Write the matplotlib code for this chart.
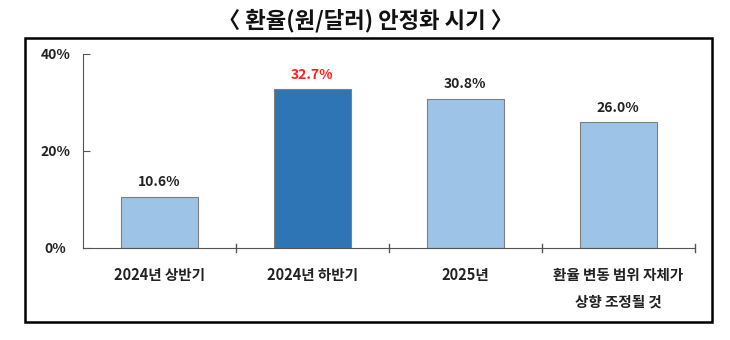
import matplotlib.pyplot as plt
from matplotlib.patches import Rectangle

plt.rcParams['font.family'] = ['Noto Sans CJK KR', 'DejaVu Sans']

categories = ['2024년 상반기', '2024년 하반기', '2025년', '환율 변동 범위 자체가\n상향 조정될 것']
values = [10.6, 32.7, 30.8, 26.0]
colors = ['#9DC3E6', '#2E75B6', '#9DC3E6', '#9DC3E6']
label_colors = ['#222222', '#FF2020', '#222222', '#222222']

fig = plt.figure(figsize=(7.3, 3.4), dpi=100)
ax = fig.add_axes([0.1137, 0.2706, 0.838, 0.5706])

x = range(len(categories))
ax.bar(x, values, width=0.5, color=colors, edgecolor='#7F7F7F', linewidth=0.8, zorder=2)
for i, v in enumerate(values):
    ax.text(i, v + 1.5, f'{v:.1f}%', ha='center', va='bottom', fontsize=10,
            fontweight='bold', color=label_colors[i])

ax.set_xlim(-0.5, len(categories) - 0.5)
ax.set_ylim(0, 40)
ax.set_yticks([0, 20, 40])
ax.set_yticklabels(['0%', '20%', '40%'], fontsize=10, fontweight='bold', color='#222222')
ax.set_xticks(list(x))
ax.set_xticklabels(categories, fontsize=10.5, fontweight='bold', color='#222222', linespacing=1.75)
ax.tick_params(axis='x', length=0, pad=14)
ax.tick_params(axis='y', direction='in', length=5, color='#555555', pad=20)
# boundary ticks between categories
for b in [0.5, 1.5, 2.5, 3.5]:
    ax.plot([b, b], [-0.8, 0.8], color='#555555', lw=1, clip_on=False)
for lbl in ax.get_yticklabels():
    lbl.set_horizontalalignment('center')

for s in ['top', 'right']:
    ax.spines[s].set_visible(False)
ax.spines['left'].set_color('#555555')
ax.spines['bottom'].set_color('#555555')

fig.patches.append(Rectangle((0.0342, 0.053), 0.9408, 0.835, transform=fig.transFigure,
                             fill=False, edgecolor='black', linewidth=1.8))
fig.text(0.5, 0.938, '〈 환율(원/달러) 안정화 시기 〉', ha='center', va='center',
         fontsize=16, fontweight='bold', color='#111111')

fig.savefig('out.png', dpi=100)
